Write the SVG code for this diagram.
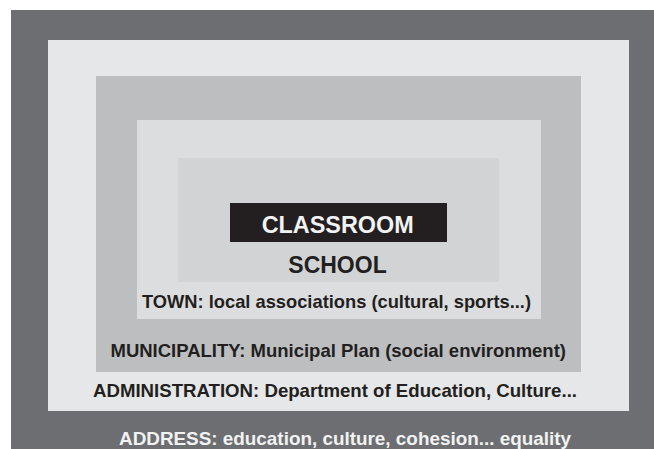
<svg xmlns="http://www.w3.org/2000/svg" width="654" height="449" viewBox="0 0 654 449">
<style>
text{font-family:"Liberation Sans",Arial,sans-serif;font-weight:bold;fill:#231f20}
.s{font-size:18.5px}
.b{font-size:24px}
.w{fill:#f1f2f2}
</style>
<rect width="654" height="449" fill="#ffffff"/>
<g id="address">
<rect x="11" y="10" width="643" height="439" fill="#6d6e71"/>
<text class="s w" x="119" y="444.5" textLength="452" lengthAdjust="spacingAndGlyphs">ADDRESS: education, culture, cohesion... equality</text>
</g>
<g id="administration">
<rect x="48" y="40" width="581" height="371" fill="#e6e7e8"/>
<text class="s" x="93" y="396.5" textLength="484" lengthAdjust="spacingAndGlyphs">ADMINISTRATION: Department of Education, Culture...</text>
</g>
<g id="municipality">
<rect x="96" y="76" width="485" height="296" fill="#bcbec0"/>
<text class="s" x="110.5" y="357" textLength="455.5" lengthAdjust="spacingAndGlyphs">MUNICIPALITY: Municipal Plan (social environment)</text>
</g>
<g id="town">
<rect x="137" y="120" width="404" height="199" fill="#dcdddf"/>
<text class="s" x="142" y="307.5" textLength="389" lengthAdjust="spacingAndGlyphs">TOWN: local associations (cultural, sports...)</text>
</g>
<g id="school">
<rect x="178" y="158" width="321" height="124" fill="#d1d3d4"/>
<text class="b" x="288.3" y="272.5" textLength="98.4" lengthAdjust="spacingAndGlyphs">SCHOOL</text>
</g>
<g id="classroom">
<rect x="230" y="203" width="217" height="39" fill="#231f20"/>
<text class="b w" x="261.7" y="232.5" textLength="152" lengthAdjust="spacingAndGlyphs">CLASSROOM</text>
</g>
<g id="connectors"/>
</svg>
